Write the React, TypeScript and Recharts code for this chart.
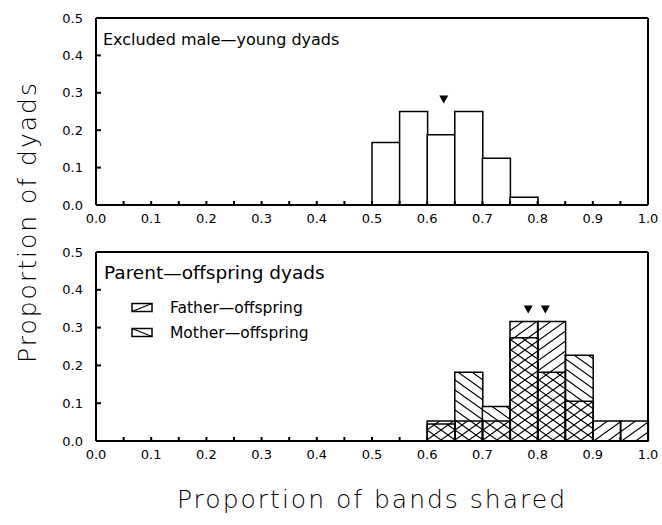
import { BarChart, Bar, XAxis, YAxis, ReferenceDot, ReferenceLine } from "recharts";

// histogram bins, width 0.05
const binStarts = [
  "0.00", "0.05", "0.10", "0.15", "0.20", "0.25", "0.30", "0.35", "0.40", "0.45",
  "0.50", "0.55", "0.60", "0.65", "0.70", "0.75", "0.80", "0.85", "0.90", "0.95",
];

const excludedShare = [0, 0, 0, 0, 0, 0, 0, 0, 0, 0, 0.167, 0.25, 0.188, 0.25, 0.125, 0.021, 0, 0, 0, 0];
const fatherShare = [0, 0, 0, 0, 0, 0, 0, 0, 0, 0, 0, 0, 0.053, 0.053, 0.053, 0.316, 0.316, 0.105, 0.053, 0.053];
const motherShare = [0, 0, 0, 0, 0, 0, 0, 0, 0, 0, 0, 0, 0.045, 0.182, 0.091, 0.273, 0.182, 0.227, 0, 0];

// mean markers (triangles)
const excludedMeans = [{ x: 0.63, y: 0.282 }];
const parentMeans = [
  { x: 0.783, y: 0.348 },
  { x: 0.814, y: 0.348 },
];

const xTicks = [0, 0.05, 0.1, 0.15, 0.2, 0.25, 0.3, 0.35, 0.4, 0.45, 0.5, 0.55, 0.6, 0.65, 0.7, 0.75, 0.8, 0.85, 0.9, 0.95, 1];
const yTicks = [0, 0.1, 0.2, 0.3, 0.4, 0.5];

const rows = binStarts.map((bin, i) => ({
  bin,
  mid: parseFloat(bin) + 0.025,
  excluded: excludedShare[i],
  father: fatherShare[i],
  mother: motherShare[i],
}));

const FONT = "'DejaVu Sans', sans-serif";
const W = 662;

const fmtX = (v: number) => (Math.round(v * 100) % 10 === 0 ? v.toFixed(1) : "");
const fmtY = (v: number) => v.toFixed(1);

const Triangle = (props: any) => {
  const { cx, cy } = props;
  return <polygon points={`${cx - 4.5},${cy - 4} ${cx + 4.5},${cy - 4} ${cx},${cy + 4}`} fill="#000" />;
};

function Axes() {
  return [
    <XAxis
      key="num"
      xAxisId="num"
      type="number"
      dataKey="mid"
      domain={[0, 1]}
      ticks={xTicks}
      interval={0}
      allowDataOverflow
      tickFormatter={fmtX}
      tickSize={-4}
      tickMargin={13}
      height={30}
      stroke="#000"
      strokeWidth={2}
      tick={{ fill: "#000", fontSize: 13, fontFamily: FONT }}
    />,
    <XAxis key="bins" xAxisId="bins" dataKey="bin" hide height={0} />,
    <YAxis
      key="left"
      yAxisId="left"
      domain={[0, 0.5]}
      ticks={yTicks}
      interval={0}
      width={96}
      tickSize={-5}
      tickMargin={18}
      tickFormatter={fmtY}
      stroke="#000"
      strokeWidth={2}
      tick={{ fill: "#000", fontSize: 13, fontFamily: FONT }}
    />,
    <YAxis
      key="right"
      yAxisId="right"
      orientation="right"
      domain={[0, 0.5]}
      ticks={yTicks}
      interval={0}
      width={1}
      tickSize={-5}
      tickFormatter={() => ""}
      stroke="#000"
      strokeWidth={2}
    />,
    <ReferenceLine key="top" xAxisId="num" yAxisId="left" y={0.5} stroke="#000" strokeWidth={2} />,
  ];
}

export default function App() {
  return (
    <div style={{ position: "absolute", left: 0, top: 0, width: W, height: 525, background: "#fff" }}>
      <div style={{ position: "absolute", left: 0, top: 0 }}>
        <BarChart width={W} height={235} data={rows} margin={{ top: 18, right: 13, bottom: 0, left: 0 }} barCategoryGap={0}>
          {Axes()}
          <Bar xAxisId="bins" yAxisId="left" dataKey="excluded" fill="#fff" stroke="#000" strokeWidth={1.5} isAnimationActive={false} />
          {excludedMeans.map((m, i) => (
            <ReferenceDot key={i} xAxisId="num" yAxisId="left" x={m.x} y={m.y} r={4} shape={Triangle} />
          ))}
        </BarChart>
      </div>
      <div style={{ position: "absolute", left: 0, top: 235 }}>
        <BarChart width={W} height={236} data={rows} margin={{ top: 17, right: 13, bottom: 0, left: 0 }} barCategoryGap={0}>
          <defs>
            <pattern id="hatchM" patternUnits="userSpaceOnUse" width={14} height={10}>
              <rect width={14} height={10} fill="#fff" />
              <path d="M0,0 L14,10 M-7,5 L7,15 M7,-5 L21,5" stroke="#000" strokeWidth={1.1} />
            </pattern>
            <pattern id="hatchF" patternUnits="userSpaceOnUse" width={14} height={10}>
              <path d="M0,10 L14,0 M-7,5 L7,-5 M7,15 L21,5" stroke="#000" strokeWidth={1.1} />
            </pattern>
          </defs>
          {Axes()}
          <XAxis xAxisId="binsF" dataKey="bin" hide height={0} />
          <Bar xAxisId="bins" yAxisId="left" dataKey="mother" fill="url(#hatchM)" stroke="#000" strokeWidth={1.5} isAnimationActive={false} />
          <Bar xAxisId="binsF" yAxisId="left" dataKey="father" fill="url(#hatchF)" stroke="#000" strokeWidth={1.5} isAnimationActive={false} />
          {parentMeans.map((m, i) => (
            <ReferenceDot key={i} xAxisId="num" yAxisId="left" x={m.x} y={m.y} r={4} shape={Triangle} />
          ))}
        </BarChart>
      </div>
      <svg width={W} height={525} style={{ position: "absolute", left: 0, top: 0, pointerEvents: "none" }} fontFamily={FONT}>
        <text x={103} y={45} fontSize={16} fill="#000">Excluded male—young dyads</text>
        <text x={104} y={279} fontSize={18.5} fill="#000">Parent—offspring dyads</text>
        {/* legend */}
        <rect x={132} y={303.5} width={20} height={8} fill="#fff" stroke="#000" strokeWidth={1.5} />
        <line x1={132} y1={311.5} x2={152} y2={303.5} stroke="#000" strokeWidth={1.3} />
        <text x={170} y={313} fontSize={15.5} fill="#000">Father—offspring</text>
        <rect x={132} y={328.5} width={20} height={8} fill="#fff" stroke="#000" strokeWidth={1.5} />
        <line x1={132} y1={328.5} x2={152} y2={336.5} stroke="#000" strokeWidth={1.3} />
        <text x={170} y={338} fontSize={15.5} fill="#000">Mother—offspring</text>
        {/* axis titles */}
        <text x={372} y={508} fontSize={25} letterSpacing={2} textAnchor="middle" fill="#000" fontWeight={300}>
          Proportion of bands shared
        </text>
        <text x={36} y={222} fontSize={25} letterSpacing={2} textAnchor="middle" fill="#000" fontWeight={300} transform="rotate(-90 36 222)">
          Proportion of dyads
        </text>
      </svg>
    </div>
  );
}
